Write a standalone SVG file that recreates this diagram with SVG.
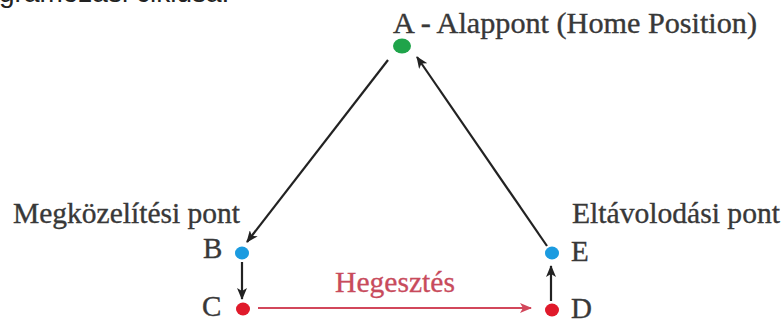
<svg xmlns="http://www.w3.org/2000/svg" width="783" height="323" viewBox="0 0 783 323">
  <style>
    .lbl { font-family: "Liberation Serif", "Times New Roman", serif; font-size: 29px; fill: #383838; stroke: #383838; stroke-width: 0.35; }
    .weld { font-family: "Liberation Serif", "Times New Roman", serif; font-size: 29px; fill: #c84b5c; stroke: #c84b5c; stroke-width: 0.3; }
    .cap { font-family: "Liberation Sans", Arial, sans-serif; font-size: 28px; fill: #222222; }
    .conn { stroke: #222222; stroke-width: 2.2; fill: none; }
    .connred { stroke: #d2475b; stroke-width: 2.2; fill: none; }
  </style>
  <defs>
    <marker id="ah" viewBox="0 0 12 10" refX="11" refY="5" markerWidth="12" markerHeight="10" markerUnits="userSpaceOnUse" orient="auto">
      <path d="M0,0 L12,5 L0,10 L3,5 Z" fill="#222222"/>
    </marker>
    <marker id="ahr" viewBox="0 0 12 10" refX="11" refY="5" markerWidth="12" markerHeight="10" markerUnits="userSpaceOnUse" orient="auto">
      <path d="M0,0 L12,5 L0,10 L3,5 Z" fill="#d2475b"/>
    </marker>
  </defs>

  <text class="cap" x="-1" y="2">gramozási ciklusa.</text>

  <g id="connectors">
    <line class="conn" x1="388" y1="60" x2="247" y2="242" marker-end="url(#ah)"/>
    <line class="conn" x1="242" y1="262" x2="242" y2="299" marker-end="url(#ah)"/>
    <line class="connred" x1="258" y1="308" x2="531" y2="308" marker-end="url(#ahr)"/>
    <line class="conn" x1="551" y1="301" x2="551" y2="266" marker-end="url(#ah)"/>
    <line class="conn" x1="547" y1="246" x2="417" y2="57" marker-end="url(#ah)"/>
    <text class="weld" x="335" y="292" textLength="120" lengthAdjust="spacingAndGlyphs">Hegesztés</text>
  </g>

  <g id="node-A">
    <ellipse cx="402" cy="46" rx="9" ry="7.5" fill="#1fa44a"/>
    <text class="lbl" x="393" y="33" textLength="364" lengthAdjust="spacingAndGlyphs">A - Alappont (Home Position)</text>
  </g>
  <g id="node-B">
    <ellipse cx="242" cy="253" rx="7" ry="6.5" fill="#1b9be0"/>
    <text class="lbl" x="203" y="258">B</text>
    <text class="lbl" x="13" y="223" textLength="227" lengthAdjust="spacingAndGlyphs">Megközelítési pont</text>
  </g>
  <g id="node-C">
    <ellipse cx="243" cy="309" rx="7" ry="6.5" fill="#e01a2b"/>
    <text class="lbl" x="202" y="316">C</text>
  </g>
  <g id="node-D">
    <ellipse cx="552" cy="310" rx="7" ry="6.5" fill="#e01a2b"/>
    <text class="lbl" x="571" y="318">D</text>
  </g>
  <g id="node-E">
    <ellipse cx="552" cy="253" rx="7" ry="6.5" fill="#1b9be0"/>
    <text class="lbl" x="571" y="261">E</text>
    <text class="lbl" x="572" y="223" textLength="208" lengthAdjust="spacingAndGlyphs">Eltávolodási pont</text>
  </g>
</svg>
